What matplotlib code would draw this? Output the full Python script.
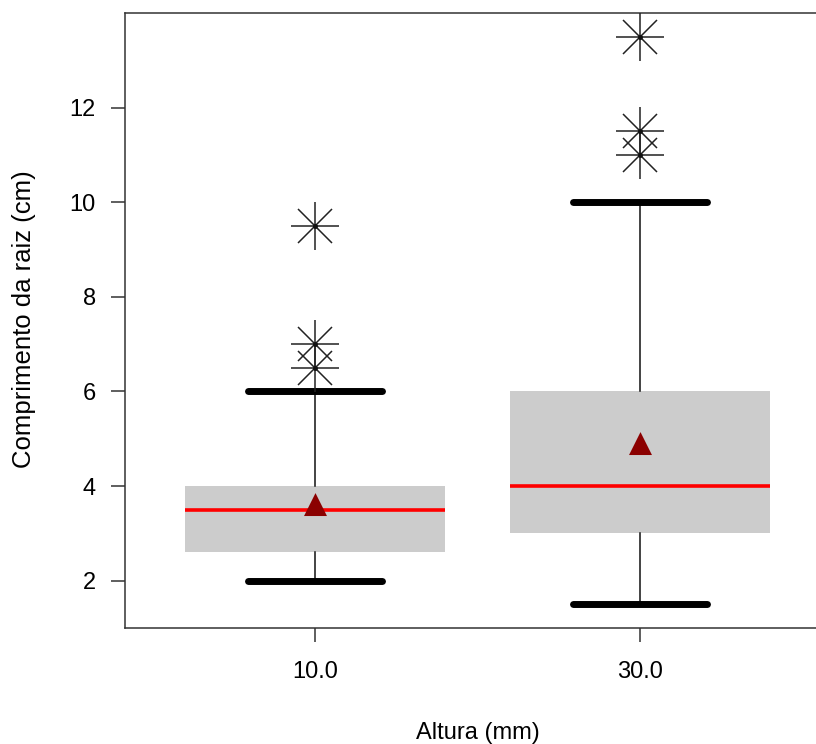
import matplotlib
matplotlib.use("Agg")
import matplotlib.pyplot as plt

plt.rcParams['font.family'] = ['Liberation Sans', 'DejaVu Sans']

# values
groups = ['10.0', '30.0']
q1 = [2.6, 3.0]
medians = [3.5, 4.0]
q3 = [4.0, 6.0]
whis_lo = [2.0, 1.5]
whis_hi = [6.0, 10.0]
means = [3.6, 4.9]
outliers = [[6.5, 7.0, 9.5], [11.0, 11.5, 13.5]]
y_ticks = [2, 4, 6, 8, 10, 12]

W, H = 816, 744
fig = plt.figure(figsize=(W / 100, H / 100), dpi=100)
# axes run past the right edge, as in the cropped original
ax = fig.add_axes([125 / W, 1 - 628 / H, 705 / W, 615 / H])

stats = []
for i in range(len(groups)):
    stats.append(dict(label=groups[i], q1=q1[i], med=medians[i], q3=q3[i],
                      whislo=whis_lo[i], whishi=whis_hi[i], mean=means[i], fliers=[]))

positions = list(range(1, len(groups) + 1))
ax.bxp(stats, positions=positions, widths=0.8, capwidths=0.41,
       patch_artist=True, showmeans=True, showfliers=False,
       boxprops=dict(facecolor='#cccccc', edgecolor='none', linewidth=0),
       whiskerprops=dict(color='#111111', linewidth=1.1),
       capprops=dict(color='black', linewidth=5, solid_capstyle='round'),
       medianprops=dict(color='#ff0000', linewidth=2.6, solid_capstyle='butt'),
       meanprops=dict(marker='^', markersize=13, markerfacecolor='#8b0000',
                      markeredgecolor='#8b0000', markeredgewidth=2.2))

# asterisk outliers (R pch = 8): a plus and a cross on top of each other
for pos, vals in zip(positions, outliers):
    xs = [pos] * len(vals)
    ax.plot(xs, vals, linestyle='none', marker='+', markersize=34,
            markeredgewidth=1.1, color='#222222', zorder=4)
    ax.plot(xs, vals, linestyle='none', marker='x', markersize=25,
            markeredgewidth=1.1, color='#222222', zorder=4)
    ax.plot(xs, vals, linestyle='none', marker='o', markersize=2.5,
            color='#111111', zorder=5)

ax.set_xlim(0.415, 2.585)
ax.set_ylim(1.0, 14.0)
ax.set_yticks(y_ticks)
ax.set_yticklabels([str(v) for v in y_ticks])
ax.set_xticks(positions)
ax.set_xticklabels(groups)

for side in ['left', 'bottom', 'top', 'right']:
    ax.spines[side].set_color('#333333')
    ax.spines[side].set_linewidth(1.1)

ax.tick_params(axis='y', length=10, width=1.1, color='#333333', pad=11, labelsize=17)
ax.tick_params(axis='x', length=10, width=1.1, color='#333333', pad=14, labelsize=17)

fig.text(24 / W, 1 - 319 / H, 'Comprimento da raiz (cm)', rotation=90,
         ha='center', va='center', fontsize=18.5)
fig.text(478 / W, 1 - 733 / H, 'Altura (mm)', ha='center', va='center', fontsize=17)

fig.savefig('out.png', dpi=100)
